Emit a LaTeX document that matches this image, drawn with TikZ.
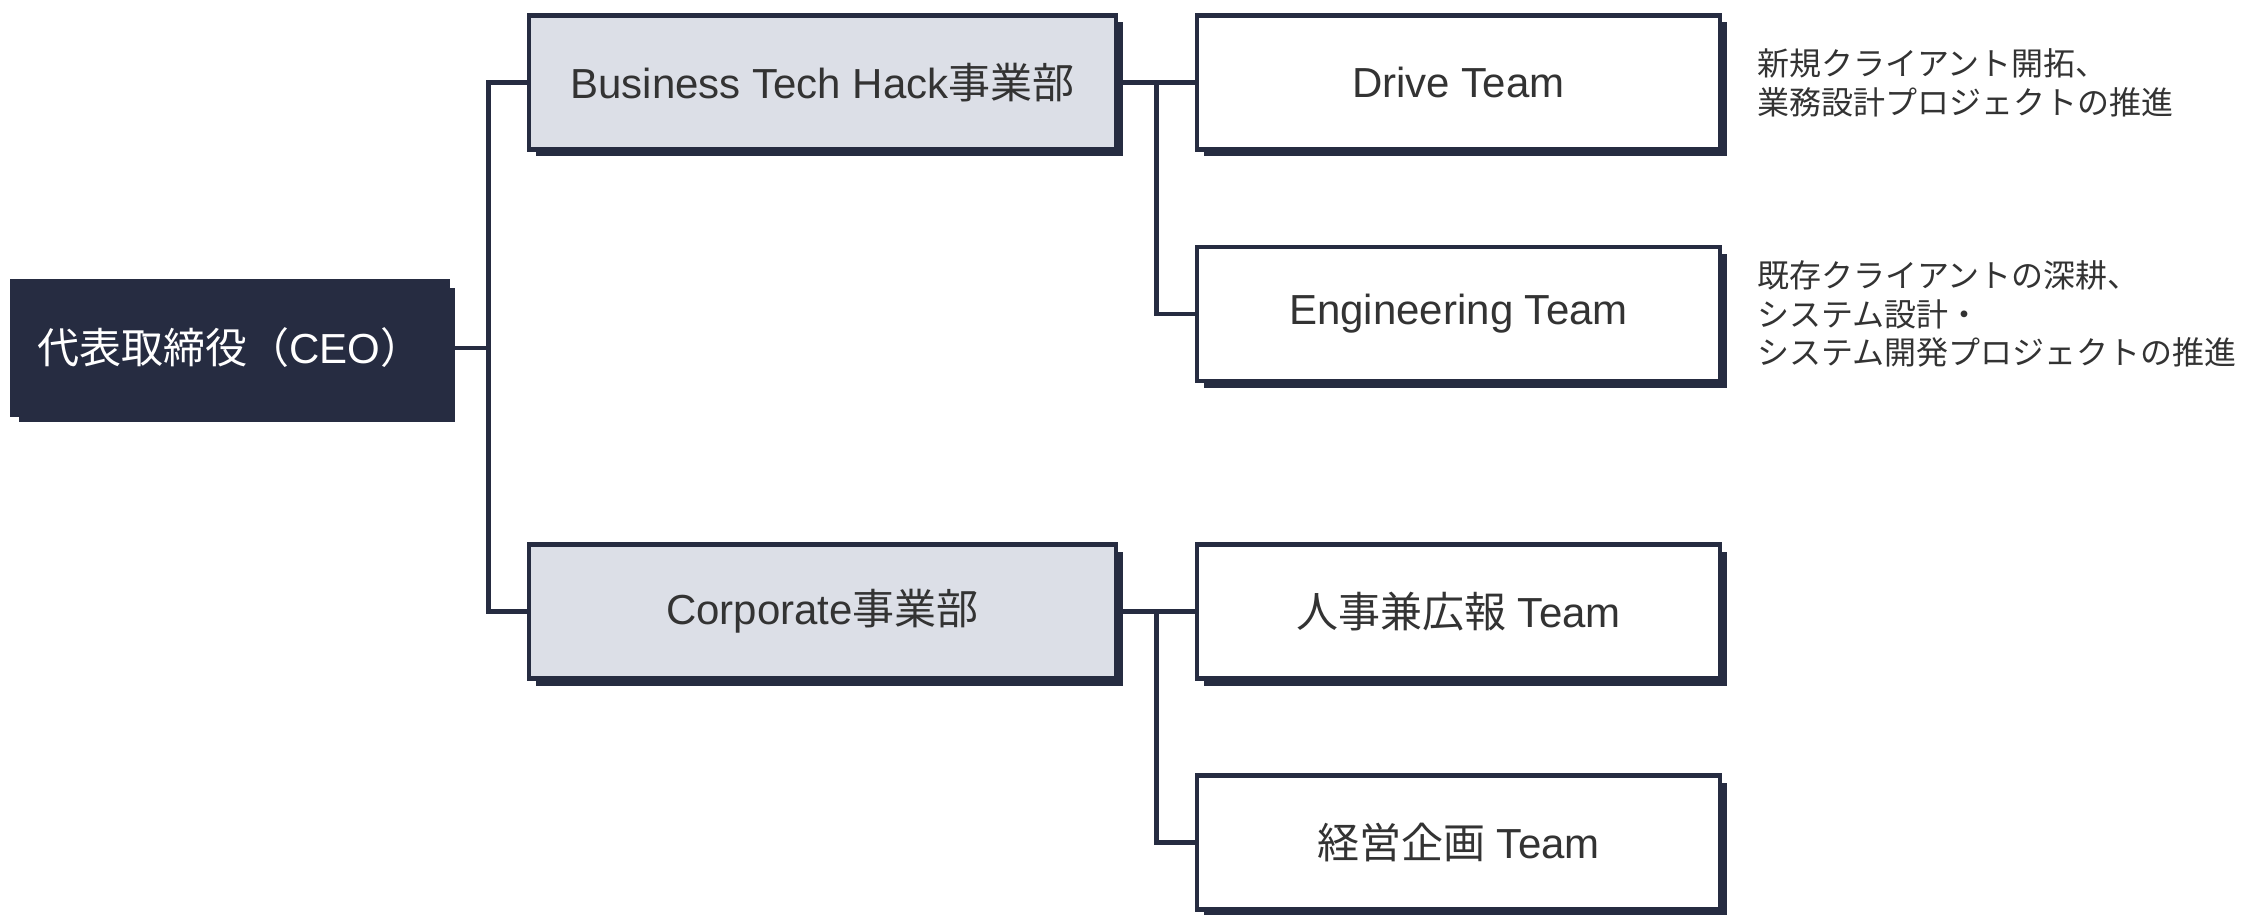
\documentclass[tikz,border=0pt]{standalone}
\usepackage{fontspec}
\setmainfont{Liberation Sans}
\newfontfamily\cjk{Noto Sans CJK JP}
\usetikzlibrary{shadows,calc}
\definecolor{navy}{HTML}{262C41}
\definecolor{lightfill}{HTML}{DCDFE7}
\definecolor{txt}{HTML}{333333}
\tikzset{
  orgbox/.style={draw=navy, line width=4.5pt, inner sep=0pt, text=txt,
    minimum height=134pt,
    font=\fontsize{42}{50}\selectfont,
    drop shadow={shadow xshift=7pt, shadow yshift=-7pt, fill=navy, opacity=1}},
  deptbox/.style={orgbox, fill=lightfill, minimum width=587pt},
  teambox/.style={orgbox, fill=white, minimum width=523pt},
  ceobox/.style={orgbox, fill=navy, text=white, minimum width=436pt},
  desc/.style={anchor=west, align=left, inner sep=0pt, text=txt,
    font=\cjk\fontsize{32}{38.5}\selectfont},
  conn/.style={draw=navy, line width=4.5pt}
}
\begin{document}
\begin{tikzpicture}[x=1pt,y=-1pt]
\useasboundingbox (0,0) rectangle (2241,915);
\node[ceobox] (ceo) at (230,348) {{\cjk 代表取締役（}CEO{\cjk ）}};
\node[deptbox] (bth) at (822.5,82.5) {Business Tech Hack{\cjk 事業部}};
\node[deptbox] (corp) at (822.5,611.5) {Corporate{\cjk 事業部}};
\node[teambox] (drive) at (1458.5,82.5) {Drive Team};
\node[teambox] (eng) at (1458.5,314) {Engineering Team};
\node[teambox] (hr) at (1458.5,611.5) {{\cjk 人事兼広報} Team};
\node[teambox] (keiei) at (1458.5,842.5) {{\cjk 経営企画} Team};
\node[desc] (d1) at (1757,83) {新規クライアント開拓、\\業務設計プロジェクトの推進};
\node[desc] (d2) at (1757,314) {既存クライアントの深耕、\\システム設計・\\システム開発プロジェクトの推進};
\coordinate (j1) at ($(ceo.east)!0.5!(bth.west |- ceo.east)$);
\coordinate (j2) at ($(bth.east)!0.5!(drive.west)$);
\coordinate (j3) at ($(corp.east)!0.5!(hr.west)$);
\draw[conn] (ceo.east) -- (j1);
\draw[conn] (bth.west) -| (j1) |- (corp.west);
\draw[conn] (bth.east) -- (drive.west);
\draw[conn] (j2) |- (eng.west);
\draw[conn] (corp.east) -- (hr.west);
\draw[conn] (j3) |- (keiei.west);
\end{tikzpicture}
\end{document}
